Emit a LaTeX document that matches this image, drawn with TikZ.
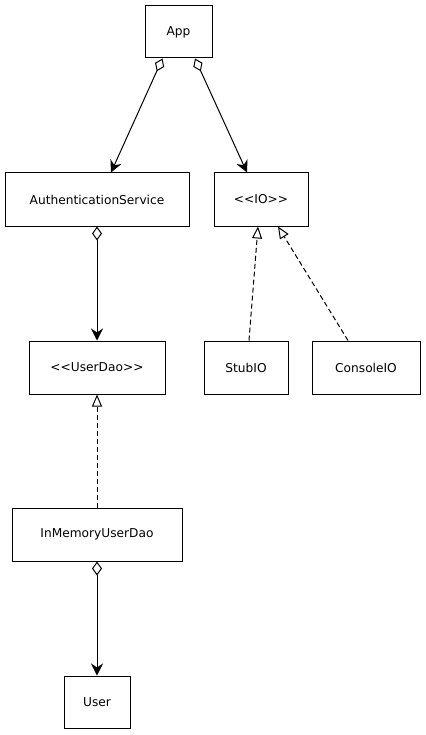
\documentclass[tikz,border=0pt]{standalone}
\usepackage{fontspec}
\setmainfont{DejaVu Sans}
\usetikzlibrary{arrows.meta,calc}
\begin{document}
\begin{tikzpicture}[x=1pt,y=-1pt,
 cls/.style={draw,line width=1pt,minimum height=53pt,inner sep=0pt,font=\fontsize{12.2}{14}\selectfont},
 agg/.style={line width=1pt,{Diamond[open,length=14pt,width=10pt]}-{Stealth[length=12pt,width=12pt,inset=4pt]}},
 real/.style={line width=1pt,dash pattern=on 5pt off 3pt,-{Triangle[open,length=12pt,width=10pt]}}]
\useasboundingbox (0,0) rectangle (425,735);
\node[cls,minimum width=67pt,minimum height=52pt] (app) at (178.5,32) {App};
\node[cls,minimum width=184pt] (auth) at (97,199.5) {AuthenticationService};
\node[cls,minimum width=94pt] (io) at (261,199.5) {<{}<IO>{}>};
\node[cls,minimum width=136pt] (dao) at (97,367.5) {<{}<UserDao>{}>};
\node[cls,minimum width=84pt] (stub) at (246,367.5) {StubIO};
\node[cls,minimum width=108pt] (console) at (366,367.5) {ConsoleIO};
\node[cls,minimum width=170pt] (mem) at (97,534.5) {InMemoryUserDao};
\node[cls,minimum width=66pt,minimum height=52pt] (user) at (97,702) {User};
\draw[agg] ($(app.south)+(-16,0)$) -- ($(auth.north)+(14,0)$);
\draw[agg] ($(app.south)+(16.5,0)$) -- ($(io.north)+(-14,0)$);
\draw[agg] (auth.south) -- (dao.north);
\draw[agg] (mem.south) -- (user.north);
\draw[real] (mem.north) -- (dao.south);
\draw[real] ($(stub.north)+(3,0)$) -- ($(io.south)+(-3,0)$);
\draw[real] ($(console.north)+(-18,0)$) -- ($(io.south)+(17,0)$);
\end{tikzpicture}
\end{document}
